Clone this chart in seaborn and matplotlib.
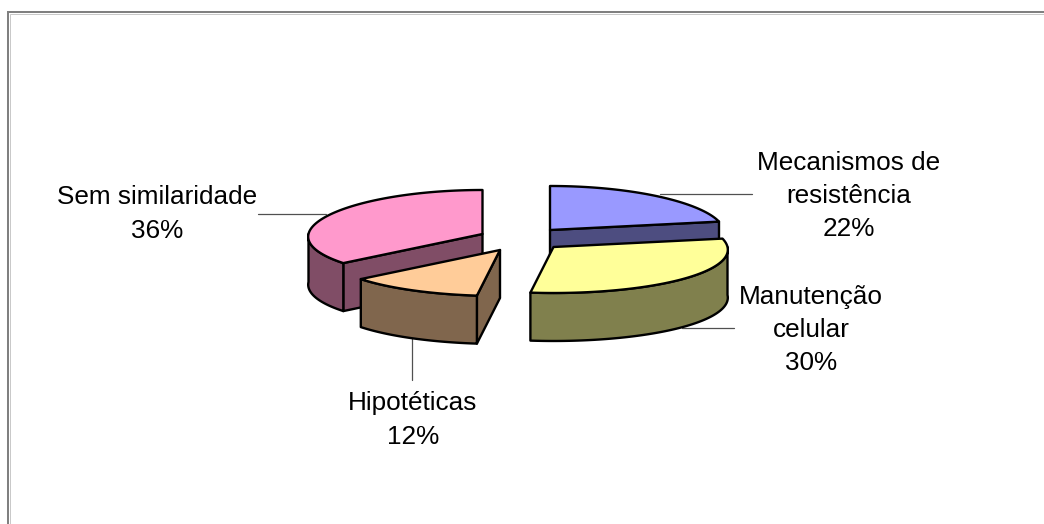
import numpy as np
import matplotlib
matplotlib.use("Agg")
import matplotlib.pyplot as plt
from matplotlib.patches import Polygon
import seaborn as sns

# Share of each functional class, clockwise from twelve o'clock
categories = ["Mecanismos de\nresistência", "Manutenção\ncelular", "Hipotéticas", "Sem similaridade"]
shares = [22, 30, 12, 36]
top_hex = ["#9999FF", "#FFFF99", "#FFCC99", "#FF99CC"]

# Exploded wedge apexes, in canvas pixels
apex_x = [550, 553.5, 500, 482.5]
apex_y = [230, 247, 250, 234]

# Label centres and leader segments
label_x = [849, 811, 413, 157]
label_y = [196, 330, 420, 214]
leader_x = [(660, 752), (682, 734), (412, 412), (258, 326)]
leader_y = [(194, 194), (328, 328), (338, 380), (213.5, 213.5)]

RX, RY, DEPTH = 174, 45, 48
PERSPECTIVE_X, PERSPECTIVE_Y = 0.06, 0.022
W, H = 1044, 524

sns.set_theme(style="white")
plt.rcParams["font.family"] = ["Liberation Sans", "DejaVu Sans"]
top_colors = sns.color_palette(top_hex)
side_colors = [tuple(0.5 * c for c in col) for col in top_colors]

fig = plt.figure(figsize=(W / 100, H / 100), dpi=100)
ax = fig.add_axes([0, 0, 1, 1])
ax.set_xlim(0, W)
ax.set_ylim(H, 0)
ax.axis("off")


def rim(cx, cy, start, stop, drop=0.0, n=120):
    """Points along the tilted pie's rim; the near side is drawn a little larger."""
    t = np.radians(np.linspace(start, stop, n))
    v = -np.cos(t)
    x = RX * np.sin(t) * (1 + PERSPECTIVE_X * v)
    y = RY * v * (1 + PERSPECTIVE_Y * v)
    return np.column_stack([cx + x, cy + y + drop])


def face(points, color, z):
    ax.add_patch(Polygon(points, closed=True, facecolor=color, edgecolor="black",
                         linewidth=1.7, joinstyle="round", zorder=z))


# Frame around the chart area: only the top and left edges fall on the canvas
ax.plot([8, 8, W], [H, 12, 12], color="#808080", lw=1.45, solid_joinstyle="miter", zorder=1)
ax.plot([9.5, 9.5, W], [H, 13.5, 13.5], color="#C8C8C8", lw=0.7, solid_joinstyle="miter", zorder=1)

for x, y in zip(leader_x, leader_y):
    ax.plot(x, y, color="#505050", lw=0.9, zorder=2)

# Wedges, back to front
edges = np.cumsum([0] + shares) * 3.6
order = [0, 3, 1, 2]
for z, i in enumerate(order):
    cx, cy = apex_x[i], apex_y[i]
    a0, a1 = edges[i], edges[i + 1]
    base = 10 + 5 * z
    apex = np.array([cx, cy])

    # Straight cut faces, only where they turn toward the viewer
    for ang, visible in ((a0, np.sin(np.radians(a0)) < -1e-6),
                         (a1, np.sin(np.radians(a1)) > 1e-6)):
        if visible:
            p = rim(cx, cy, ang, ang, n=1)[0]
            face([apex, p, p + [0, DEPTH], apex + [0, DEPTH]], side_colors[i], base)

    # Outer wall: the part of the rim on the near side
    lo, hi = max(a0, 90), min(a1, 270)
    if lo < hi:
        upper = rim(cx, cy, lo, hi)
        lower = rim(cx, cy, lo, hi, drop=DEPTH)
        face(np.vstack([upper, lower[::-1]]), side_colors[i], base + 1)

    # Top surface
    face(np.vstack([[apex], rim(cx, cy, a0, a1)]), top_colors[i], base + 2)

for name, share, x, y in zip(categories, shares, label_x, label_y):
    ax.text(x, y, f"{name}\n{share}%", ha="center", va="center", fontsize=18.85,
            color="black", linespacing=1.48, zorder=50)

fig.savefig("out.png", dpi=100, facecolor="white")
